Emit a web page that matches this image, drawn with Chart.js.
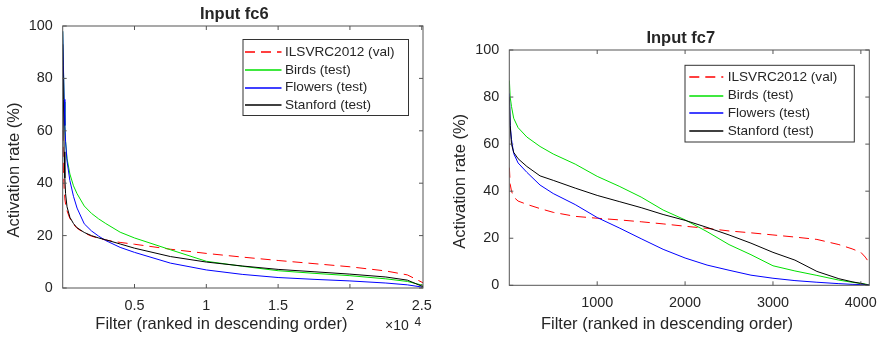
<!DOCTYPE html>
<html>
<head>
<meta charset="utf-8">
<script src="https://cdn.jsdelivr.net/npm/chart.js@4"></script>
<style>
html,body{margin:0;padding:0;background:#fff;}
canvas{position:absolute;top:0;}
</style>
</head>
<body>
<canvas id="c1" width="439" height="337" style="left:0"></canvas>
<canvas id="c2" width="439" height="337" style="left:439px"></canvas>
<script>
// ---------- DATA ----------
const seriesLabels = ['ILSVRC2012 (val)', 'Birds (test)', 'Flowers (test)', 'Stanford (test)'];
const yTicks = [0, 20, 40, 60, 80, 100];

// Input fc6 (x: filter rank, 0..25088)
const fc6X = [1, 50, 100, 150, 200, 300, 500, 750, 1000, 1500, 2000, 2500, 3000, 4000, 5000, 7500, 10000, 12500, 15000, 17500, 20000, 22500, 24000, 25088];
const fc6Ilsvrc   = [60, 45, 38, 34, 32, 29.5, 26.5, 24.3, 22.8, 21, 19.8, 19, 18.3, 17.4, 16.7, 14.8, 13.2, 11.8, 10.5, 9.3, 8.1, 6.5, 5, 2];
const fc6Birds    = [98, 84, 71, 62, 56, 49.5, 43.5, 39, 36, 31.3, 28.5, 26.4, 24.6, 21.3, 19.1, 14.6, 10.2, 8.3, 6.6, 5.6, 4.7, 3.5, 2.5, 1];
const fc6Flowers  = [98, 85, 72, 62, 56, 48.5, 41, 35, 30.5, 24.5, 21.8, 19.8, 18.1, 15.5, 13.6, 9.5, 6.9, 5.2, 4, 3.3, 2.7, 1.9, 1.2, 0.3];
const fc6Stanford = [93, 72, 52, 42, 36, 31, 27, 24.6, 23, 21.2, 20, 19.1, 18.4, 16.8, 15.2, 12, 9.9, 8.4, 7.1, 6.2, 5.3, 4.2, 3, 0.5];
const fc6XTicks = [5000, 10000, 15000, 20000, 25000];

// Input fc7 (x: filter rank, 0..4096)
const fc7X = [1, 10, 25, 50, 100, 200, 350, 500, 750, 1000, 1250, 1500, 1750, 2000, 2250, 2500, 2750, 3000, 3250, 3500, 3750, 3900, 4000, 4050, 4096];
const fc7Ilsvrc   = [50, 43, 40, 37.5, 35.8, 34.4, 32.6, 31, 29.3, 28.5, 27.8, 27, 26.1, 25.1, 24.2, 23.1, 22.3, 21.4, 20.5, 19.5, 17.3, 15.5, 14, 12, 9.5];
const fc7Birds    = [87, 80, 76, 71, 67, 63, 59, 55.8, 51.5, 46.3, 42.1, 37.5, 32, 27.8, 22.8, 17.3, 13, 8.3, 6.1, 4.2, 2.2, 1.3, 0.8, 0.5, 0.2];
const fc7Flowers  = [81.5, 68, 62, 56, 52, 48, 42.6, 39, 34.3, 28.8, 24.4, 19.8, 15.3, 11.6, 8.6, 6.4, 4.3, 3, 2, 1.3, 0.7, 0.4, 0.3, 0.2, 0.1];
const fc7Stanford = [80, 68, 60, 56.5, 53.8, 50.5, 46.5, 44.6, 41.3, 38.2, 35.6, 33, 30.1, 27.6, 24.6, 21.4, 17.9, 14, 10.7, 5.9, 2.8, 1.5, 0.8, 0.4, 0];
const fc7XTicks = [1000, 2000, 3000, 4000];

// ---------- STYLE ----------
const FONT = '"Liberation Sans", Arial, Helvetica, sans-serif';
const TXT = '#262626';
const AXC = '#555555';
const colors = ['#ff0000', '#00e000', '#0000ff', '#000000'];
const dashes = [[10, 6], [], [], []];

const boxPlugin = {
  id: 'matlabBox',
  afterDraw(chart, args, o) {
    const ctx = chart.ctx, ca = chart.chartArea;
    const xs = chart.scales.x, ys = chart.scales.y;
    ctx.save();
    ctx.strokeStyle = AXC; ctx.lineWidth = 1;
    ctx.strokeRect(ca.left, ca.top, ca.right - ca.left, ca.bottom - ca.top);
    ctx.beginPath();
    xs.ticks.forEach(t => {
      const p = xs.getPixelForValue(t.value);
      ctx.moveTo(p, ca.bottom); ctx.lineTo(p, ca.bottom - 4);
      ctx.moveTo(p, ca.top); ctx.lineTo(p, ca.top + 4);
    });
    ys.ticks.forEach(t => {
      const p = ys.getPixelForValue(t.value);
      ctx.moveTo(ca.left, p); ctx.lineTo(ca.left + 4, p);
      ctx.moveTo(ca.right, p); ctx.lineTo(ca.right - 4, p);
    });
    ctx.stroke();

    // title
    ctx.fillStyle = TXT;
    ctx.textAlign = 'center'; ctx.textBaseline = 'alphabetic';
    ctx.font = 'bold 16.5px ' + FONT;
    ctx.fillText(o.title.text, o.title.x, o.title.y);
    // x label
    ctx.font = '16.5px ' + FONT;
    ctx.fillText(o.xlabel.text, o.xlabel.x, o.xlabel.y);
    // y label
    ctx.save();
    ctx.translate(o.ylabel.x, o.ylabel.y);
    ctx.rotate(-Math.PI / 2);
    ctx.fillText(o.ylabel.text, 0, 0);
    ctx.restore();
    // exponent
    if (o.exp) {
      ctx.textAlign = 'left';
      ctx.font = '14px ' + FONT;
      ctx.fillText('\u00d710', o.exp.x, o.exp.y);
      ctx.font = '12px ' + FONT;
      ctx.fillText('4', o.exp.x + 29.5, o.exp.y - 4.5);
    }
    // legend
    const L = o.legend;
    ctx.fillStyle = '#fff';
    ctx.fillRect(L.x, L.y, L.w, L.h);
    ctx.strokeStyle = '#333'; ctx.lineWidth = 1;
    ctx.strokeRect(L.x, L.y, L.w, L.h);
    ctx.font = '13.6px ' + FONT;
    ctx.textAlign = 'left'; ctx.textBaseline = 'middle';
    chart.data.datasets.forEach((ds, i) => {
      const y = L.rows[i];
      const ly = Math.round(y);
      ctx.strokeStyle = ds.borderColor; ctx.lineWidth = 1.4;
      ctx.setLineDash(ds.borderDash || []);
      ctx.beginPath(); ctx.moveTo(L.l0, ly); ctx.lineTo(L.l1, ly); ctx.stroke();
      ctx.setLineDash([]);
      ctx.fillStyle = TXT;
      ctx.fillText(ds.label, L.tx, y);
    });
    ctx.restore();
  }
};

function makeChart(id, xs, values, xMax, xTicks, xTickFmt, geom, deco) {
  const datasets = values.map((v, i) => ({
    label: seriesLabels[i],
    data: xs.map((x, j) => ({x: x, y: v[j]})),
    borderColor: colors[i],
    borderWidth: 1,
    borderDash: dashes[i],
    pointRadius: 0,
    tension: 0,
    fill: false,
    order: values.length - i
  }));
  return new Chart(document.getElementById(id), {
    type: 'line',
    data: { datasets },
    plugins: [boxPlugin],
    options: {
      responsive: false,
      animation: false,
      devicePixelRatio: 1,
      layout: { padding: { left: 0, top: geom.top, right: geom.right, bottom: 0 } },
      plugins: { legend: { display: false }, tooltip: { enabled: false }, matlabBox: deco },
      scales: {
        x: {
          type: 'linear', min: 0, max: xMax,
          afterBuildTicks: s => { s.ticks = xTicks.map(v => ({ value: v })); },
          afterFit: s => { s.height = geom.xh; s.paddingLeft = 0; s.paddingRight = 0; },
          grid: { display: false, drawTicks: false },
          border: { display: false },
          ticks: { color: TXT, font: { family: FONT, size: 14.4 }, padding: 9, maxRotation: 0, autoSkip: false,
                   callback: v => xTickFmt(v) }
        },
        y: {
          type: 'linear', min: 0, max: 100,
          afterBuildTicks: s => { s.ticks = yTicks.map(v => ({ value: v })); },
          afterFit: s => { s.width = geom.yw; s.paddingTop = 0; s.paddingBottom = 0; },
          grid: { display: false, drawTicks: false },
          border: { display: false },
          ticks: { color: TXT, font: { family: FONT, size: 14.4 }, padding: 10, callback: v => String(v) }
        }
      }
    }
  });
}

makeChart('c1', fc6X, [fc6Ilsvrc, fc6Birds, fc6Flowers, fc6Stanford], 25088, fc6XTicks,
  v => String(v / 10000),
  { top: 26, right: 16, xh: 49, yw: 62.7 },
  {
    title: { text: 'Input fc6', x: 234.3, y: 18.5 },
    xlabel: { text: 'Filter (ranked in descending order)', x: 221.4, y: 328.5 },
    ylabel: { text: 'Activation rate (%)', x: 18.8, y: 170 },
    exp: { x: 385, y: 330 },
    legend: { x: 243, y: 39.5, w: 165.5, h: 76, rows: [52.3, 70, 87.5, 105.3], l0: 245, l1: 281.5, tx: 285 }
  });

makeChart('c2', fc7X, [fc7Ilsvrc, fc7Birds, fc7Flowers, fc7Stanford], 4096, fc7XTicks,
  v => String(v),
  { top: 50, right: 8.7, xh: 51.7, yw: 70.3 },
  {
    title: { text: 'Input fc7', x: 241.8, y: 42.5 },
    xlabel: { text: 'Filter (ranked in descending order)', x: 228, y: 328.5 },
    ylabel: { text: 'Activation rate (%)', x: 25.8, y: 181.3 },
    legend: { x: 246, y: 65.3, w: 169.3, h: 76.7, rows: [77.3, 95.7, 113.3, 131.3], l0: 250.3, l1: 284.3, tx: 288.7 }
  });
</script>
</body>
</html>
